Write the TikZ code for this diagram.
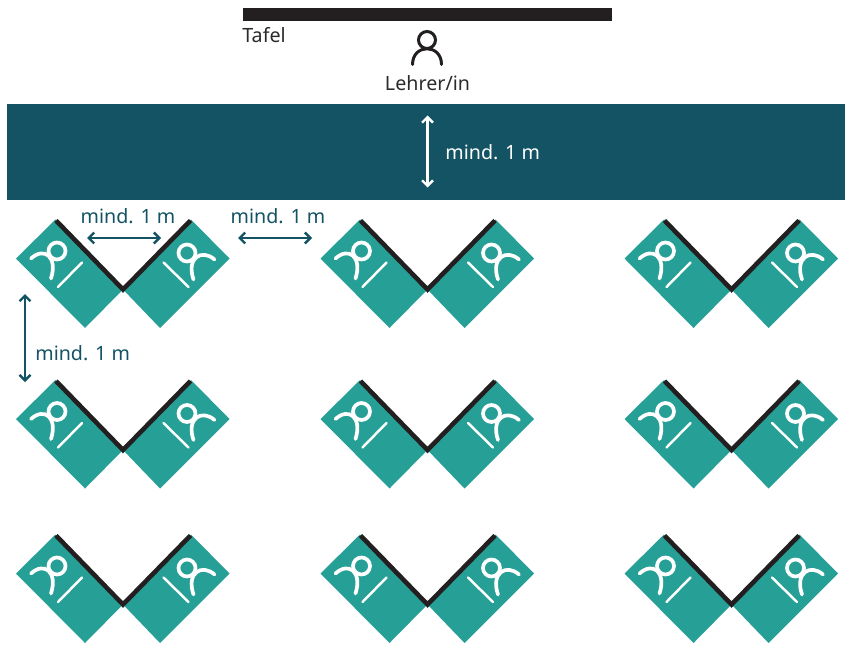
\documentclass[tikz,border=0pt]{standalone}
\usepackage{fontspec}
\setmainfont{Noto Sans}
\usetikzlibrary{arrows.meta}
\definecolor{bandTeal}{HTML}{135364}
\definecolor{seatGreen}{HTML}{26A096}
\definecolor{boardBlack}{HTML}{231F20}
\definecolor{labelGray}{HTML}{2B2B2B}
\tikzset{
    label/.style={font=\fontsize{11.2pt}{13pt}\selectfont,text=bandTeal,inner sep=0pt},
    darklabel/.style={font=\fontsize{11.2pt}{13pt}\selectfont,text=labelGray,inner sep=0pt},
    gaparrow/.style={{Straight Barb[length=1.1mm,width=2.2mm,line width=1.4pt]}-{Straight Barb[length=1.1mm,width=2.2mm,line width=1.4pt]},
        draw=bandTeal,line width=1.4pt},
    seatline/.style={draw=white,line width=2.1pt,line cap=round},
    pics/seatpair/.style={code={
        \fill[seatGreen] (0,0) -- (-1.35,1.40) -- (-2.14,0.62) -- (-0.76,-0.77) -- cycle;
        \fill[seatGreen] (0,0) -- (1.36,1.40) -- (2.13,0.62) -- (0.74,-0.77) -- cycle;
        \draw[boardBlack,line width=2.6pt] (-1.34,1.38) -- (0,0) -- (1.35,1.38);
        % left person
        \draw[seatline] (-1.32,0.77) circle (0.17);
        \draw[seatline] (-1.84,0.62) .. controls (-1.58,0.86) and (-1.30,0.66) .. (-1.44,0.22);
        \draw[seatline,line width=1.4pt] (-0.82,0.54) -- (-1.30,0.05);
        % right person
        \draw[seatline] (1.28,0.73) circle (0.17);
        \draw[seatline] (1.83,0.60) .. controls (1.58,0.82) and (1.26,0.64) .. (1.41,0.20);
        \draw[seatline,line width=1.4pt] (0.81,0.54) -- (1.31,0.05);
    }}
}
\begin{document}
\begin{tikzpicture}
    \useasboundingbox (0,0) rectangle (16.90,-12.88);

    \node[fill=boardBlack,minimum width=7.38cm,minimum height=0.26cm,inner sep=0pt] (board) at (8.55,-0.29) {};
    \node[darklabel,anchor=west] (boardlabel) at (4.84,-0.71) {Tafel};
    \node[darklabel] (teacherlabel) at (8.55,-1.66) {Lehrer/in};
    \node[fill=bandTeal,minimum width=16.76cm,minimum height=1.92cm,inner sep=0pt] (band) at (8.52,-3.04) {};

    % teacher
    \draw[boardBlack,line width=1.7pt] (8.54,-0.80) circle (0.17);
    \draw[boardBlack,line width=1.7pt,line cap=round] (8.25,-1.29) .. controls (8.25,-0.87) and (8.83,-0.87) .. (8.83,-1.29);

    % seats
    \foreach \x in {2.46,8.55,14.63} {
        \foreach \y in {-5.79,-9.00,-12.09} {
            \pic at (\x,\y) {seatpair};
        }
    }

    % distances
    \coordinate (bandtop) at (8.55,-2.31);
    \coordinate (bandbottom) at (8.55,-3.75);
    \coordinate (pairleft) at (1.74,-4.76);
    \coordinate (pairright) at (3.22,-4.76);
    \coordinate (nextleft) at (4.76,-4.76);
    \coordinate (nextright) at (6.24,-4.76);
    \coordinate (rowtop) at (0.50,-5.88);
    \coordinate (rowbottom) at (0.50,-7.64);
    \draw[gaparrow,draw=white] (bandtop) -- (bandbottom);
    \draw[gaparrow] (pairleft) -- (pairright);
    \draw[gaparrow] (nextleft) -- (nextright);
    \draw[gaparrow] (rowtop) -- (rowbottom);

    \node[label,text=white,anchor=west] (bandlabel) at (8.90,-3.04) {mind. 1 m};
    \node[label] (pairlabel) at (2.56,-4.32) {mind. 1 m};
    \node[label] (nextlabel) at (5.56,-4.32) {mind. 1 m};
    \node[label,anchor=west] (rowlabel) at (0.70,-7.06) {mind. 1 m};
\end{tikzpicture}
\end{document}
